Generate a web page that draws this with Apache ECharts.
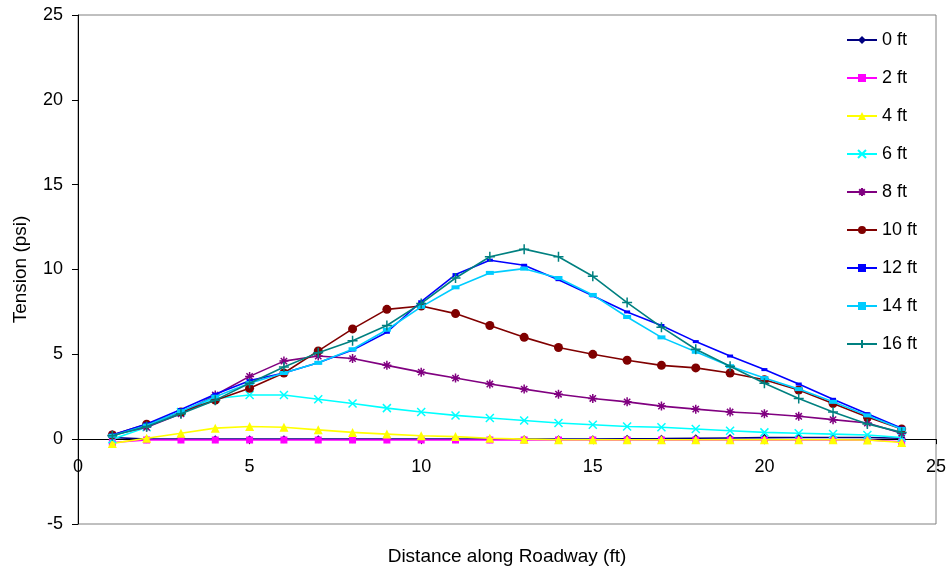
<!DOCTYPE html>
<html>
<head>
<meta charset="utf-8">
<script src="https://cdn.jsdelivr.net/npm/echarts@6/dist/echarts.min.js"></script>
<style>
html,body{margin:0;padding:0;background:#fff;}
#chart{width:948px;height:574px;}
</style>
</head>
<body>
<div id="chart"></div>
<script>
var distance = [1,2,3,4,5,6,7,8,9,10,11,12,13,14,15,16,17,18,19,20,21,22,23,24];
var seriesNames = ['0 ft','2 ft','4 ft','6 ft','8 ft','10 ft','12 ft','14 ft','16 ft'];
var ft0  = [0.1,0.0,0.0,0.0,0.0,0.0,0.0,0.0,0.0,0.0,0.0,0.0,0.0,0.0,0.0,0.02,0.03,0.05,0.07,0.09,0.1,0.1,0.1,0.05];
var ft2  = [-0.2,-0.05,-0.05,-0.05,-0.05,-0.05,-0.05,-0.05,-0.05,-0.05,-0.05,-0.05,-0.05,-0.05,-0.05,-0.05,-0.05,-0.05,-0.05,-0.05,-0.05,-0.05,-0.05,-0.15];
var ft4  = [-0.25,0.05,0.35,0.65,0.75,0.7,0.55,0.4,0.3,0.2,0.15,0.05,0.0,-0.03,-0.03,-0.03,-0.03,-0.03,-0.03,-0.03,-0.03,-0.03,-0.05,-0.2];
var ft6  = [0.0,0.7,1.6,2.4,2.6,2.6,2.35,2.1,1.83,1.6,1.4,1.25,1.1,0.95,0.85,0.75,0.7,0.6,0.5,0.4,0.35,0.3,0.25,0.1];
var ft8  = [0.25,0.7,1.5,2.6,3.7,4.6,4.9,4.75,4.35,3.95,3.6,3.25,2.95,2.65,2.4,2.2,1.95,1.77,1.6,1.5,1.35,1.15,0.95,0.35];
var ft10 = [0.25,0.88,1.6,2.3,3.0,3.9,5.2,6.5,7.65,7.85,7.4,6.7,6.0,5.4,5.0,4.65,4.35,4.2,3.9,3.5,2.9,2.1,1.3,0.6];
var ft12 = [0.25,0.9,1.75,2.65,3.45,3.9,4.5,5.25,6.3,8.1,9.7,10.55,10.25,9.4,8.45,7.5,6.7,5.75,4.9,4.1,3.25,2.35,1.5,0.65];
var ft14 = [0.2,0.8,1.65,2.5,3.3,3.9,4.5,5.3,6.45,7.8,8.95,9.8,10.05,9.5,8.5,7.2,6.0,5.15,4.3,3.6,2.95,2.2,1.4,0.6];
var ft16 = [0.2,0.75,1.5,2.3,3.3,4.25,5.1,5.8,6.7,8.0,9.5,10.75,11.2,10.75,9.6,8.05,6.6,5.3,4.3,3.3,2.4,1.6,0.9,0.4];
var yTicks = [-5,0,5,10,15,20,25];
var xTicks = [0,5,10,15,20,25];

var allValues = [ft0,ft2,ft4,ft6,ft8,ft10,ft12,ft14,ft16];
var colors = ['#000080','#FF00FF','#FFFF00','#00FFFF','#800080','#800000','#0000FF','#00CCFF','#008080'];
var symbols = [
  'diamond','rect','triangle',
  'path://M0,0L10,10M10,0L0,10',
  'path://M5,0L5,10M0,5L10,5M1.5,1.5L8.5,8.5M8.5,1.5L1.5,8.5',
  'circle','rect','rect',
  'path://M5,0L5,10M0,5L10,5'
];
var symbolSizes = [8,7,9,8,9,9,[6,3],[8,4],10];
var strokeSym = [false,false,false,true,true,false,false,false,true];

var font = 'Liberation Sans, Arial, sans-serif';

var gridTop = 15, gridBottom = 50, chartH = 574;
var plotH = chartH - gridTop - gridBottom;
var yMin = yTicks[0], yMax = yTicks[yTicks.length-1];
// shift the x axis up so it crosses the y axis at 0
var xAxisOffset = -plotH * (0 - yMin) / (yMax - yMin);

var series = allValues.map(function(vals, i){
  return {
    name: seriesNames[i],
    type: 'line',
    data: distance.map(function(d, j){ return [d, vals[j]]; }),
    symbol: symbols[i],
    symbolSize: symbolSizes[i],
    showAllSymbol: true,
    smooth: false,
    lineStyle: {color: colors[i], width: 1.6},
    itemStyle: strokeSym[i] ? {color: colors[i], borderColor: colors[i], borderWidth: 1.5} : {color: colors[i], borderWidth: 0},
    emphasis: {disabled: true},
    animation: false,
    z: 2 + i
  };
});

var chart = echarts.init(document.getElementById('chart'), null, {renderer: 'canvas'});
chart.setOption({
  animation: false,
  backgroundColor: '#ffffff',
  color: colors,
  grid: {left: 78, top: gridTop, right: 12, bottom: gridBottom, containLabel: false, outerBoundsMode: 'none', show: true, borderColor: '#808080', borderWidth: 1, backgroundColor: 'transparent'},
  legend: {
    orient: 'vertical',
    left: 846,
    top: 31,
    padding: 0,
    itemWidth: 30,
    itemHeight: 10,
    itemGap: 20,
    textStyle: {fontFamily: font, fontSize: 18, color: '#000'},
    data: seriesNames
  },
  xAxis: {
    type: 'value',
    min: xTicks[0],
    max: xTicks[xTicks.length-1],
    interval: 5,
    offset: xAxisOffset,
    name: 'Distance along Roadway (ft)',
    nameLocation: 'middle',
    nameGap: 108,
    nameTextStyle: {fontFamily: font, fontSize: 19, color: '#000'},
    axisLine: {onZero: false, lineStyle: {color: '#000', width: 1}},
    axisTick: {show: true, inside: false, length: 5, lineStyle: {color: '#000'}},
    axisLabel: {fontFamily: font, fontSize: 18, color: '#000', margin: 19},
    splitLine: {show: false}
  },
  yAxis: {
    type: 'value',
    min: yMin,
    max: yMax,
    interval: 5,
    name: 'Tension (psi)',
    nameLocation: 'middle',
    nameGap: 48,
    nameTextStyle: {fontFamily: font, fontSize: 19, color: '#000'},
    axisLine: {show: true, onZero: false, lineStyle: {color: '#000', width: 1}},
    axisTick: {show: true, inside: false, length: 6, lineStyle: {color: '#000'}},
    axisLabel: {fontFamily: font, fontSize: 18, color: '#000', margin: 15},
    splitLine: {show: false}
  },
  series: series
});
</script>
</body>
</html>
